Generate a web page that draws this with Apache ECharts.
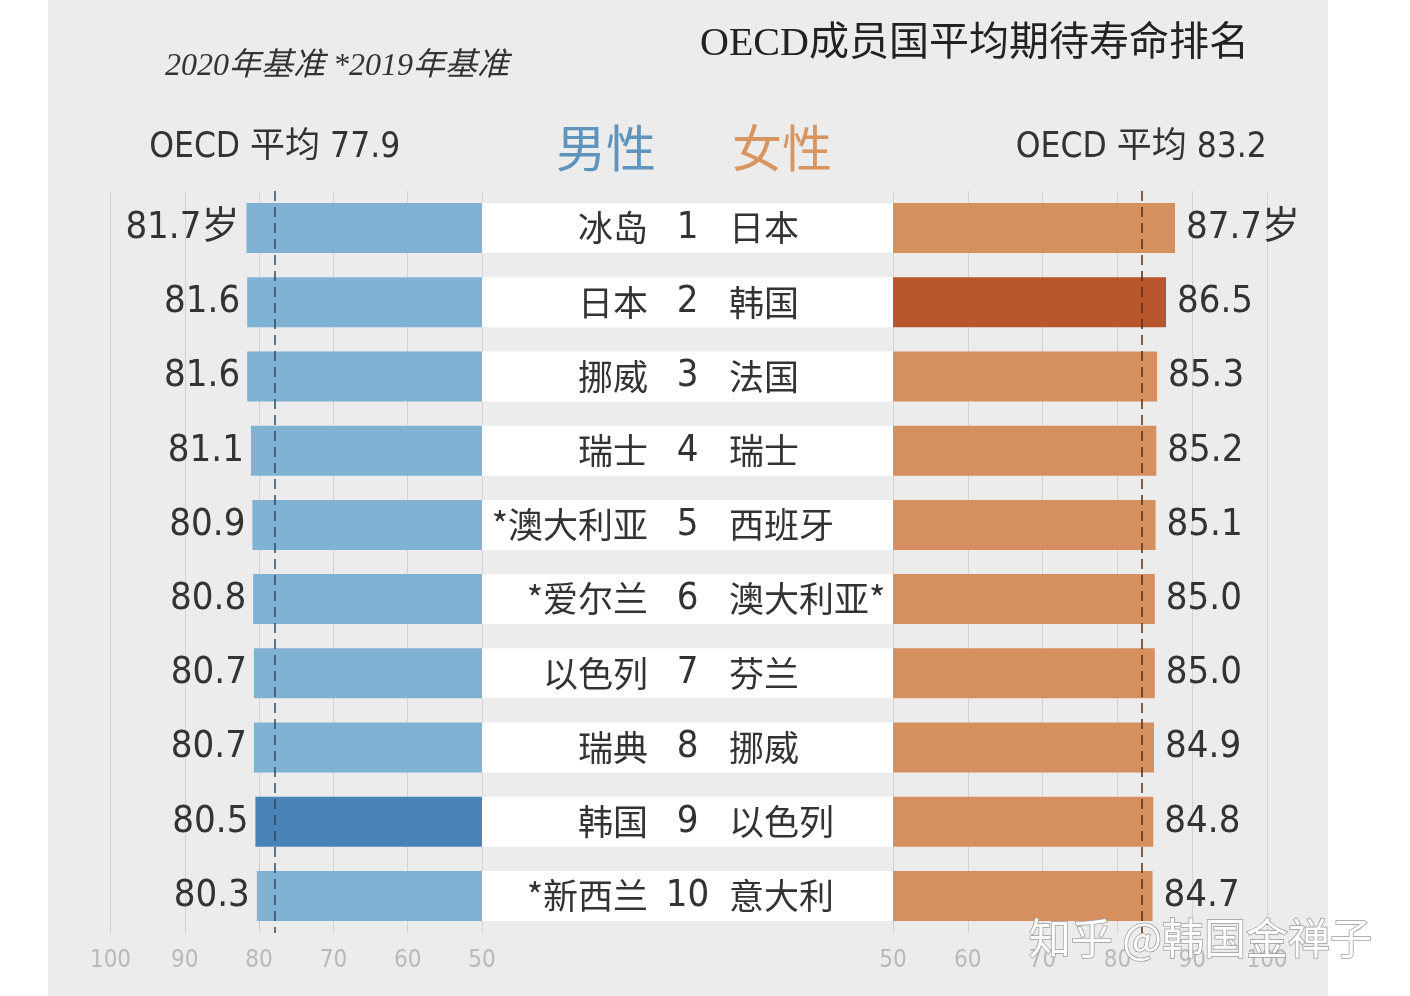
<!DOCTYPE html>
<html>
<head>
<meta charset="utf-8">
<script src="https://cdn.jsdelivr.net/npm/echarts@6/dist/echarts.min.js"></script>
<style>
  html, body { margin: 0; padding: 0; background: #fff; }
  /* 좌우 흰 여백 + 가운데 회색 패널 */
  #chart {
    width: 1410px; height: 996px;
    background: linear-gradient(to right, #fff 48px, #ececec 48px, #ececec 1328px, #fff 1328px);
  }
</style>
</head>
<body>
<div id="chart"></div>
<script>
// 데이터
const ranks = [1, 2, 3, 4, 5, 6, 7, 8, 9, 10];
const maleCountries = ['冰岛', '日本', '挪威', '瑞士', '*澳大利亚', '*爱尔兰', '以色列', '瑞典', '韩国', '*新西兰'];
const maleValues = [81.7, 81.6, 81.6, 81.1, 80.9, 80.8, 80.7, 80.7, 80.5, 80.3];
const femaleCountries = ['日本', '韩国', '法国', '瑞士', '西班牙', '澳大利亚*', '芬兰', '挪威', '以色列', '意大利'];
const femaleValues = [87.7, 86.5, 85.3, 85.2, 85.1, 85.0, 85.0, 84.9, 84.8, 84.7];
const oecdMale = 77.9;
const oecdFemale = 83.2;
const highlightCountry = '韩国';

const NARROW = "'Liberation Sans Narrow', 'DejaVu Sans Condensed', 'Noto Sans CJK SC', sans-serif";
const CJK = "'Noto Sans CJK SC', sans-serif";

const chart = echarts.init(document.getElementById('chart'));

const GRID_TOP = 191;
const GRID_H = 742;

// 값 축 공통 설정
function valueAxis(gridIndex, inverse) {
    return {
        type: 'value', gridIndex: gridIndex, min: 50, max: 100, interval: 10, inverse: inverse,
        axisLine: { show: false }, axisTick: { show: false },
        axisLabel: { color: '#b9b9b9', fontSize: 24, fontFamily: NARROW, margin: 16 },
        splitLine: { show: true, lineStyle: { color: '#d3d3d3', width: 1 } }
    };
}

// 국가명은 가운데 흰 띠 위에 축 라벨로 표시
function catAxis(gridIndex, data, opts) {
    return Object.assign({
        type: 'category', gridIndex: gridIndex, data: data, inverse: true, z: 10,
        axisLine: { show: false }, axisTick: { show: false }, axisLabel: { show: false }
    }, opts || {});
}

function avgLine(value, color) {
    return {
        silent: true,
        symbol: 'none',
        lineStyle: { type: [10, 6], color: color, width: 1.5 },
        label: {
            show: true,
            position: 'start',
            distance: 26,
            formatter: 'OECD 平均 ' + value,
            fontSize: 35,
            fontFamily: NARROW,
            color: '#333'
        },
        data: [{ xAxis: value }]
    };
}

const nameLabel = { show: true, fontSize: 35, fontFamily: CJK, color: '#333' };

const option = {
    backgroundColor: 'transparent',
    animation: false,
    title: [
        {
            text: 'OECD成员国平均期待寿命排名',
            left: 695, top: 20,
            textStyle: { fontSize: 40, fontWeight: 'normal', color: '#222', fontFamily: "'Liberation Serif', 'Noto Sans CJK SC', serif" }
        },
        {
            text: '2020年基准 *2019年基准',
            left: 160, top: 46,
            textStyle: { fontSize: 32, fontWeight: 'normal', fontStyle: 'italic', color: '#333', fontFamily: "'Liberation Serif', 'Noto Sans CJK SC', serif" }
        },
        {
            text: '男性', left: 551, top: 118,
            textStyle: { fontSize: 50, fontWeight: 'normal', color: '#5f95bd', fontFamily: CJK }
        },
        {
            text: '女性', left: 727, top: 118,
            textStyle: { fontSize: 50, fontWeight: 'normal', color: '#d9955f', fontFamily: CJK }
        }
    ],
    grid: [
        { left: 110.5, right: 928, top: GRID_TOP, height: GRID_H, outerBoundsMode: 'none' },
        { left: 482, right: 517, top: GRID_TOP, height: GRID_H, outerBoundsMode: 'none' },
        { left: 893, right: 143, top: GRID_TOP, height: GRID_H, outerBoundsMode: 'none' }
    ],
    xAxis: [
        valueAxis(0, true),
        { type: 'value', gridIndex: 1, min: 0, max: 1, show: false },
        valueAxis(2, false)
    ],
    yAxis: [
        catAxis(0, maleCountries, {
            position: 'right',
            axisLabel: Object.assign({ align: 'right', margin: 166 }, nameLabel)
        }),
        catAxis(1, ranks),
        catAxis(2, femaleCountries, {
            position: 'left',
            axisLabel: Object.assign({ align: 'left', margin: 164 }, nameLabel)
        })
    ],
    series: [
        {
            name: '男性', type: 'bar', xAxisIndex: 0, yAxisIndex: 0, barWidth: 50,
            data: maleValues.map((v, i) => ({
                value: v,
                itemStyle: { color: maleCountries[i] === highlightCountry ? '#4a83b7' : '#80b2d4' }
            })),
            label: {
                show: true, position: 'left', distance: 7,
                fontSize: 38, fontFamily: NARROW, color: '#333',
                formatter: p => p.value.toFixed(1) + (p.dataIndex === 0 ? '岁' : '')
            },
            markLine: avgLine(oecdMale, '#2c4a66')
        },
        {
            name: '排名', type: 'bar', xAxisIndex: 1, yAxisIndex: 1, barWidth: 50,
            data: ranks.map(() => 1),
            itemStyle: { color: '#fff' },
            silent: true,
            label: {
                show: true, position: 'inside',
                formatter: p => String(ranks[p.dataIndex]),
                fontSize: 38, fontFamily: NARROW, color: '#333'
            }
        },
        {
            name: '女性', type: 'bar', xAxisIndex: 2, yAxisIndex: 2, barWidth: 50,
            data: femaleValues.map((v, i) => ({
                value: v,
                itemStyle: { color: femaleCountries[i] === highlightCountry ? '#b9562b' : '#d68f5f' }
            })),
            label: {
                show: true, position: 'right', distance: 11,
                fontSize: 38, fontFamily: NARROW, color: '#333',
                formatter: p => p.value.toFixed(1) + (p.dataIndex === 0 ? '岁' : '')
            },
            markLine: avgLine(oecdFemale, '#5a2d14')
        }
    ],
    graphic: [
        {
            type: 'text', left: 1028, top: 916, z: 100, silent: true,
            style: {
                text: '知乎 @韩国金禅子', fontSize: 42, fontFamily: CJK,
                fill: '#fff', stroke: '#9a9a9a', lineWidth: 1.5
            }
        }
    ]
};

chart.setOption(option);
window.addEventListener('resize', () => chart.resize());
</script>
</body>
</html>
